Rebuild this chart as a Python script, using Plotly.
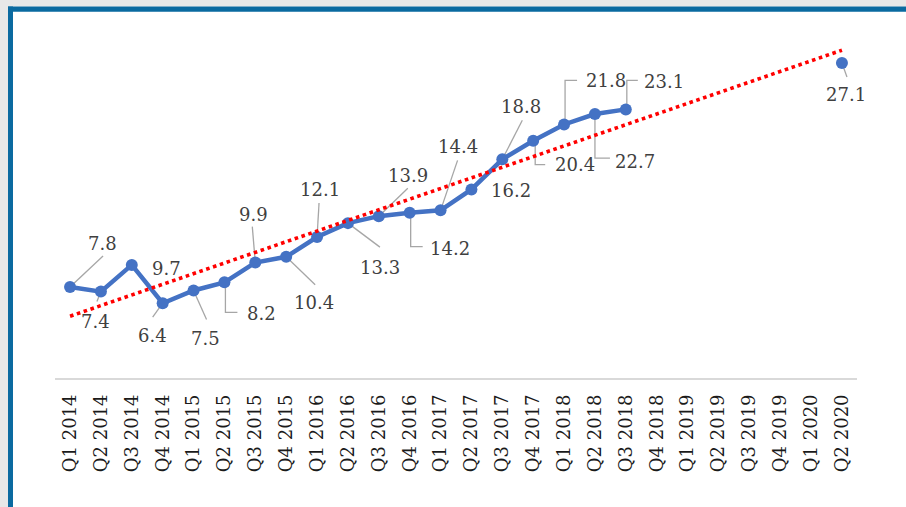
import numpy as np
import plotly.graph_objects as go

# Quarter labels along the category axis
quarters = [
    "Q1 2014", "Q2 2014", "Q3 2014", "Q4 2014",
    "Q1 2015", "Q2 2015", "Q3 2015", "Q4 2015",
    "Q1 2016", "Q2 2016", "Q3 2016", "Q4 2016",
    "Q1 2017", "Q2 2017", "Q3 2017", "Q4 2017",
    "Q1 2018", "Q2 2018", "Q3 2018", "Q4 2018",
    "Q1 2019", "Q2 2019", "Q3 2019", "Q4 2019",
    "Q1 2020", "Q2 2020",
]

# Quarterly values (None = no reading for that quarter)
values = [
    7.8, 7.4, 9.7, 6.4,
    7.5, 8.2, 9.9, 10.4,
    12.1, 13.3, 13.9, 14.2,
    14.4, 16.2, 18.8, 20.4,
    21.8, 22.7, 23.1, None,
    None, None, None, None,
    None, 27.1,
]

# Label placement per point: text centre offset (px, screen y down) and leader path
label_offsets = {
    0: (32, -43, [(0, 0), (33, -31)]),
    1: (-5, 30, [(0, 0), (-4, 10)]),
    2: (35, 4, None),
    3: (-10, 32, [(0, 0), (-10, 14)]),
    4: (12, 48, [(0, 0), (13, 29)]),
    5: (37, 31, [(1, 0), (1, 30), (13, 30)]),
    6: (-2, -48, [(0, 0), (-3, -36)]),
    7: (28, 46, [(0, 0), (29, 28)]),
    8: (3, -48, [(0, 0), (2, -34)]),
    9: (32, 44, [(0, 0), (32, 24)]),
    10: (29, -41, [(0, 0), (29, -28)]),
    11: (40, 36, [(1, 0), (1, 34), (13, 34)]),
    12: (17, -64, [(0, 0), (17, -50)]),
    13: (40, 1, None),
    14: (19, -53, [(0, 0), (20, -39)]),
    15: (42, 24, [(2, 0), (2, 24), (12, 24)]),
    16: (42, -44, [(1, 0), (1, -44), (13, -44)]),
    17: (40, 47, [(0, 0), (0, 44), (15, 44)]),
    18: (38, -28, [(1, 0), (1, -29), (12, -29)]),
    25: (4, 32, [(0, 0), (5, 14)]),
}

xs = list(range(len(quarters)))

# Linear trend fitted over the quarters that have a value
known = [(i, v) for i, v in zip(xs, values) if v is not None]
kx = np.array([k[0] for k in known], dtype=float)
ky = np.array([k[1] for k in known], dtype=float)
slope, intercept = np.polyfit(kx, ky, 1)
trend_x = [xs[0], xs[-1]]
trend_y = [intercept + slope * t for t in trend_x]

W, H = 906, 507
fig = go.Figure()

fig.add_trace(go.Scatter(
    x=xs, y=values, mode="lines+markers",
    line=dict(color="#4472C4", width=4.5),
    marker=dict(color="#4472C4", size=12),
    connectgaps=False, hoverinfo="skip", showlegend=False,
))
fig.add_trace(go.Scatter(
    x=trend_x, y=trend_y, mode="lines",
    line=dict(color="#FF0000", width=3.6, dash="dot"),
    hoverinfo="skip", showlegend=False,
))

annotations = []
shapes = []
for i, (dx, dy, path) in label_offsets.items():
    v = values[i]
    annotations.append(dict(
        x=i, y=v, xref="x", yref="y", text=f"{v:.1f}", showarrow=False,
        xshift=dx, yshift=-dy, xanchor="center", yanchor="middle",
        font=dict(family="DejaVu Serif", size=18, color="#404040"),
    ))
    if path:
        d = "M " + " L ".join(f"{px} {-py}" for px, py in path)
        shapes.append(dict(
            type="path", xref="x", yref="y", xsizemode="pixel", ysizemode="pixel",
            xanchor=i, yanchor=v, path=d, layer="below",
            line=dict(color="#A6A6A6", width=1.3),
        ))

# Frame: grey margin strip with a blue rule along the top and left edges
grey = "#E7E8E8"
blue = "#0A6AA0"
shapes += [
    dict(type="rect", xref="paper", yref="paper", x0=0, x1=8 / W, y0=0, y1=1,
         fillcolor=grey, line=dict(width=0), layer="below"),
    dict(type="rect", xref="paper", yref="paper", x0=0, x1=1, y0=1 - 6.5 / H, y1=1,
         fillcolor=grey, line=dict(width=0), layer="below"),
    dict(type="rect", xref="paper", yref="paper", x0=8 / W, x1=13 / W, y0=0, y1=1 - 6.5 / H,
         fillcolor=blue, line=dict(width=0), layer="below"),
    dict(type="rect", xref="paper", yref="paper", x0=8 / W, x1=1, y0=1 - 11.7 / H, y1=1 - 6.5 / H,
         fillcolor=blue, line=dict(width=0), layer="below"),
]

fig.update_layout(
    width=W, height=H,
    margin=dict(l=0, r=0, t=0, b=0),
    paper_bgcolor="white", plot_bgcolor="rgba(0,0,0,0)",
    xaxis=dict(
        domain=[54.6 / W, 857.4 / W], range=[-0.5, len(quarters) - 0.5],
        tickmode="array", tickvals=xs, ticktext=quarters, tickangle=-90,
        tickfont=dict(family="DejaVu Serif", size=18, color="#1A1A1A"),
        showline=True, linecolor="#D9D9D9", linewidth=1.5,
        showgrid=False, zeroline=False,
        ticks="outside", ticklen=8, tickcolor="rgba(0,0,0,0)",
        fixedrange=True,
    ),
    yaxis=dict(
        domain=[1 - 377.5 / H, 1 - 29.3 / H], range=[0, 30],
        visible=False, showgrid=False, zeroline=False, fixedrange=True,
    ),
    annotations=annotations,
    shapes=shapes,
)

fig.write_html("out.html")
